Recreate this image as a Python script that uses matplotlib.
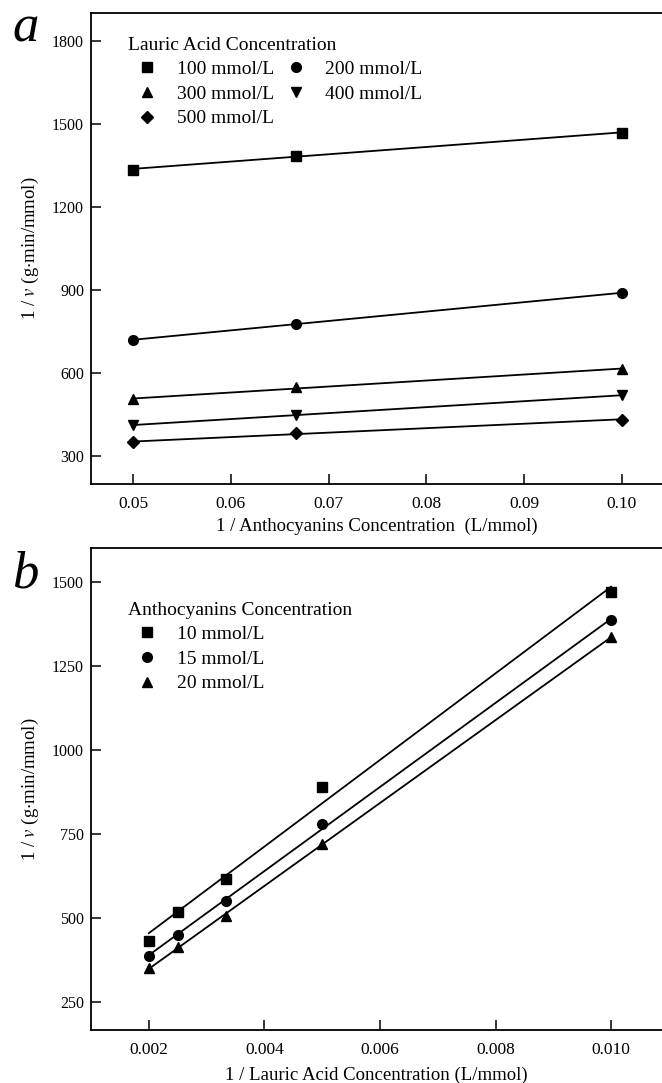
import numpy as np
import matplotlib
matplotlib.use('Agg')
import matplotlib.pyplot as plt
from matplotlib.lines import Line2D

plt.rcParams['font.family'] = ['Liberation Serif', 'DejaVu Serif']
plt.rcParams['mathtext.fontset'] = 'stix'

# panel a: 1/v vs 1/[anthocyanins] for each lauric acid concentration
inv_antho = [0.05, 0.0667, 0.10]
lauric_labels = ['100 mmol/L', '200 mmol/L', '300 mmol/L', '400 mmol/L', '500 mmol/L']
lauric_markers = ['s', 'o', '^', 'v', 'D']
inv_v_100 = [1335, 1385, 1468]
inv_v_200 = [720, 778, 890]
inv_v_300 = [505, 550, 615]
inv_v_400 = [412, 450, 520]
inv_v_500 = [350, 385, 432]

# panel b: 1/v vs 1/[lauric acid] for each anthocyanin concentration
inv_lauric = [0.002, 0.0025, 0.00333, 0.005, 0.010]
antho_labels = ['10 mmol/L', '15 mmol/L', '20 mmol/L']
antho_markers = ['s', 'o', '^']
inv_v_10 = [432, 518, 615, 890, 1468]
inv_v_15 = [385, 450, 550, 778, 1385]
inv_v_20 = [350, 412, 505, 720, 1335]

fig = plt.figure(figsize=(6.62, 10.83), dpi=100)
ax_a = fig.add_axes([91 / 662, 1 - 484 / 1083, 1 - 91 / 662, 471 / 1083])
ax_b = fig.add_axes([91 / 662, 1 - 1030 / 1083, 1 - 91 / 662, 482 / 1083])


def draw_series(ax, x, ys, markers, labels):
    handles = []
    for y, m, lab in zip(ys, markers, labels):
        ms = 6.3 if m == 'D' else 7
        ax.plot(x, y, m, color='black', ms=ms, ls='none', zorder=3)
        k, b = np.polyfit(x, y, 1)
        xx = np.array([min(x), max(x)])
        ax.plot(xx, k * xx + b, '-', color='black', lw=1.3, zorder=2)
        handles.append(Line2D([], [], marker=m, color='black', ls='none', ms=ms, label=lab))
    return handles


def style_axes(ax):
    ax.spines['right'].set_visible(False)
    for s in ['left', 'bottom', 'top']:
        ax.spines[s].set_linewidth(1.3)
    ax.tick_params(direction='in', length=7, width=1.1, right=False, top=False)
    ax.tick_params(axis='y', labelsize=11.5, pad=5)
    ax.tick_params(axis='x', labelsize=12.5, pad=9)


leg_kw = dict(loc='upper left', frameon=False, fontsize=14, title_fontsize=14, alignment='left',
              handlelength=2.0, handletextpad=0.5, columnspacing=0.15, labelspacing=0.36,
              borderaxespad=0, borderpad=0)

h_a = draw_series(ax_a, inv_antho, [inv_v_100, inv_v_200, inv_v_300, inv_v_400, inv_v_500],
                  lauric_markers, lauric_labels)
style_axes(ax_a)
ax_a.set_xlim(0.0457, 0.1041)
ax_a.set_ylim(200, 1900)
ax_a.set_xticks([0.05, 0.06, 0.07, 0.08, 0.09, 0.10])
ax_a.set_xticklabels(['0.05', '0.06', '0.07', '0.08', '0.09', '0.10'])
ax_a.set_yticks([300, 600, 900, 1200, 1500, 1800])
ax_a.set_xlabel('1 / Anthocyanins Concentration  (L/mmol)', fontsize=13.5, labelpad=4)
ax_a.set_ylabel('1 / $\\mathit{v}$ (g$\\cdot$min/mmol)', fontsize=13.5, labelpad=8)
# row-major order in two columns
order = [0, 2, 4, 1, 3]
ax_a.legend(handles=[h_a[i] for i in order], title='Lauric Acid Concentration', ncol=2,
            bbox_to_anchor=(0.0648, 0.950), **leg_kw)
fig.text(26 / 662, 1 - 42 / 1083, 'a', fontsize=38, style='italic', ha='center', va='baseline')

h_b = draw_series(ax_b, inv_lauric, [inv_v_10, inv_v_15, inv_v_20], antho_markers, antho_labels)
style_axes(ax_b)
ax_b.set_xlim(0.001, 0.01088)
ax_b.set_ylim(166, 1600)
ax_b.set_xticks([0.002, 0.004, 0.006, 0.008, 0.010])
ax_b.set_xticklabels(['0.002', '0.004', '0.006', '0.008', '0.010'])
ax_b.set_yticks([250, 500, 750, 1000, 1250, 1500])
ax_b.set_xlabel('1 / Lauric Acid Concentration (L/mmol)', fontsize=13.5, labelpad=6)
ax_b.set_ylabel('1 / $\\mathit{v}$ (g$\\cdot$min/mmol)', fontsize=13.5, labelpad=8)
ax_b.legend(handles=h_b, title='Anthocyanins Concentration', bbox_to_anchor=(0.0648, 0.889), **leg_kw)
fig.text(25 / 662, 1 - 588 / 1083, 'b', fontsize=38, style='italic', ha='center', va='baseline')

fig.savefig('out.png', dpi=100)
